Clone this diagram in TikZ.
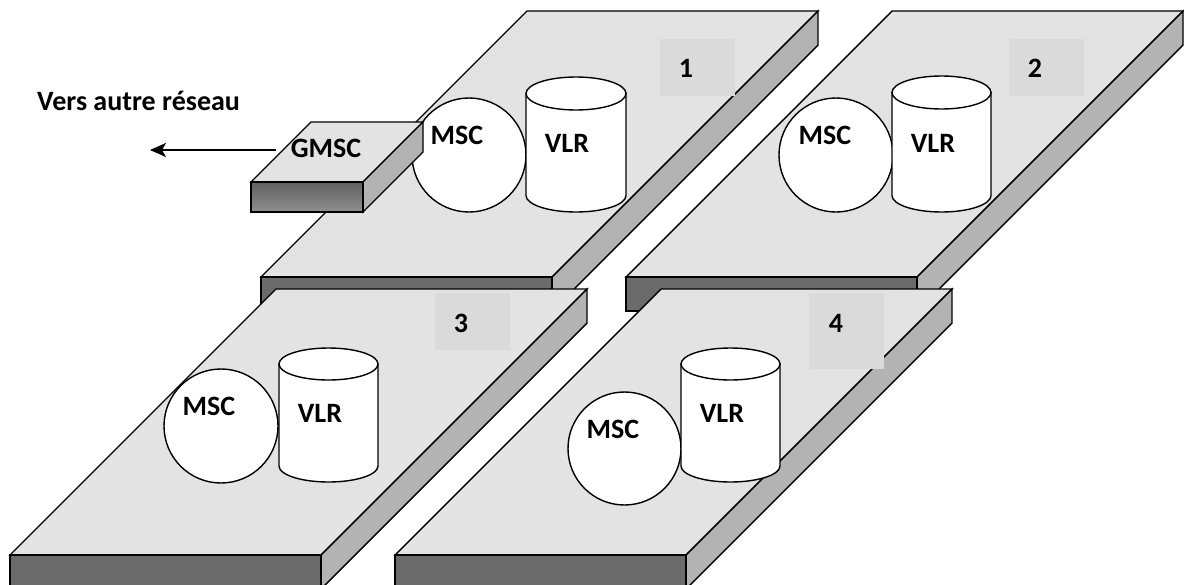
\documentclass[tikz,border=0pt]{standalone}
\usepackage{fontspec}
\setmainfont{Carlito}
\usetikzlibrary{arrows.meta}

\definecolor{platetop}{HTML}{E3E3E3}
\definecolor{plateside}{HTML}{B3B3B3}
\definecolor{platefront}{HTML}{6B6B6B}
\definecolor{tagbox}{HTML}{DADADA}

\tikzset{
  edge/.style={draw=black, line width=1.4pt, line join=miter},
  txt/.style={inner sep=0pt, anchor=base, font=\fontsize{28}{32}\selectfont\bfseries},
}

% slab: #1 top-left x, #2 top y, #3 bottom-left x, #4 bottom y, #5 width, #6 thickness
\newcommand{\drawslab}[6]{%
  \filldraw[edge, fill=platetop] (#1,#2) -- (#1+#5,#2) -- (#3+#5,#4) -- (#3,#4) -- cycle;
  \filldraw[edge, fill=plateside] (#1+#5,#2) -- (#1+#5,#2+#6) -- (#3+#5,#4+#6) -- (#3+#5,#4) -- cycle;
  \filldraw[edge, fill=platefront] (#3,#4) rectangle (#3+#5,#4+#6);
}

% drum (cylinder): #1 left x, #2 right x, #3 top y, #4 bottom y, #5 half height of the rims
\newcommand{\drawdrum}[5]{%
  \filldraw[edge, fill=white] (#1,#3+#5) -- (#1,#4-#5)
    arc[start angle=180, end angle=0, x radius={(#2-#1)/2}, y radius=#5]
    -- (#2,#3+#5) -- cycle;
  \filldraw[edge, fill=white] ({(#1+#2)/2},#3+#5) ellipse[x radius={(#2-#1)/2}, y radius=#5];
}

\begin{document}
\begin{tikzpicture}[x=1pt, y=-1pt]
  \useasboundingbox (0,0) rectangle (1184,584);
  \clip (0,0) rectangle (1184,584);

  % back row of slabs
  \drawslab{527}{11}{261}{277}{291}{34}
  \drawslab{892}{11}{626}{277}{291}{34}

  % slab 1 contents
  \fill[tagbox] (660,39) rectangle (735,96);
  \node[txt] (n1) at (686,77) {1};
  \filldraw[edge, fill=white] (469,155) circle[radius=57];
  \drawdrum{526}{626}{77}{212}{16.5}
  \node[txt] (msc1) at (457,144) {MSC};
  \node[txt] (vlr1) at (567,152) {VLR};

  % slab 2 contents
  \fill[tagbox] (1009,39) rectangle (1084,96);
  \node[txt] (n2) at (1035,77) {2};
  \filldraw[edge, fill=white] (836,155) circle[radius=57];
  \drawdrum{892}{991}{76}{212}{16.5}
  \node[txt] (msc2) at (825,144) {MSC};
  \node[txt] (vlr2) at (933,152) {VLR};

  % gateway block on slab 1
  \fill[platetop] (311,122) -- (423,122) -- (363,182) -- (251,182) -- cycle;
  \draw[edge] (311,122) -- (423,122) -- (363,182) -- (251,182) -- cycle;
  \filldraw[edge, fill=plateside] (423,122) -- (423,152) -- (363,212) -- (363,182) -- cycle;
  \shade[top color=black!62, bottom color=black!44] (251,182) rectangle (363,212);
  \draw[edge] (251,182) rectangle (363,212);
  \node[txt] (gmsc) at (326,157) {GMSC};
  \coordinate (gmscout) at (276,150);
  \coordinate (othernet) at (150,150);
  \draw[line width=1.8pt, -{Stealth[length=16pt, width=14pt, inset=4pt]}] (gmscout) -- (othernet);
  \node[txt, anchor=base west] (vers) at (37,110) {Vers autre réseau};

  % front row of slabs
  \drawslab{276}{289}{10}{555}{311}{34}
  \drawslab{661}{289}{395}{555}{291}{34}

  % slab 3 contents
  \fill[tagbox] (435,293) rectangle (510,350);
  \node[txt] (n3) at (461,332) {3};
  \filldraw[edge, fill=white] (221,426) circle[radius=57];
  \drawdrum{279}{378}{348}{482}{16}
  \node[txt] (msc3) at (209,415) {MSC};
  \node[txt] (vlr3) at (320,422) {VLR};

  % slab 4 contents
  \fill[tagbox] (809,293) rectangle (884,369);
  \node[txt] (n4) at (836,332) {4};
  \filldraw[edge, fill=white] (624.5,448.5) circle[radius=56.5];
  \drawdrum{681}{780}{348}{482}{16}
  \node[txt] (msc4) at (613,438) {MSC};
  \node[txt] (vlr4) at (722,422) {VLR};
\end{tikzpicture}
\end{document}
